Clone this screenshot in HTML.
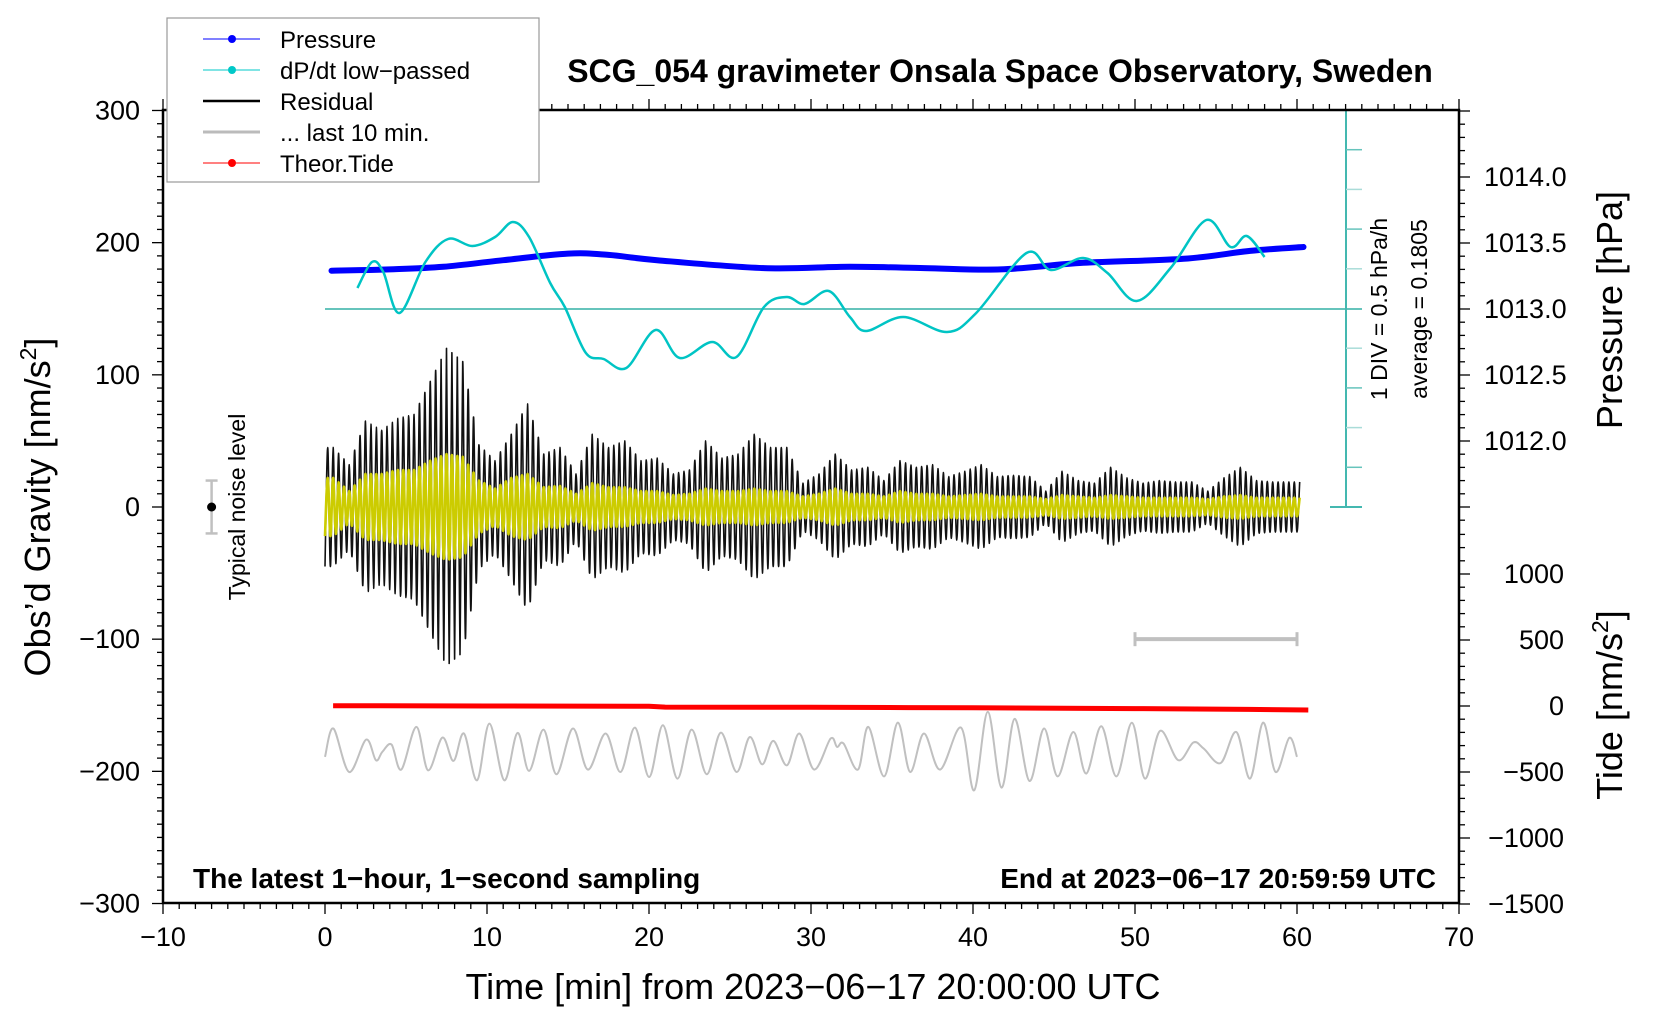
<!DOCTYPE html>
<html><head><meta charset="utf-8"><style>
html,body{margin:0;padding:0;background:#fff;}
svg{display:block;font-family:"Liberation Sans",sans-serif;}
</style></head><body>
<svg id="chart" width="1660" height="1020" viewBox="0 0 1660 1020" xmlns="http://www.w3.org/2000/svg">
<g id="marks"></g>
<g id="axes"></g>
<text x="1000" y="82" text-anchor="middle" font-size="32" font-weight="bold">SCG_054 gravimeter Onsala Space Observatory, Sweden</text>
<text x="193" y="888" font-size="28" font-weight="bold">The latest 1−hour, 1−second sampling</text>
<text x="1436" y="888" text-anchor="end" font-size="28" font-weight="bold">End at 2023−06−17 20:59:59 UTC</text>
<text x="813" y="999" text-anchor="middle" font-size="36">Time [min] from 2023−06−17 20:00:00 UTC</text>
<text transform="translate(50,507) rotate(-90)" text-anchor="middle" font-size="36">Obs’d Gravity [nm/s<tspan font-size="23" dy="-14">2</tspan><tspan dy="14">]</tspan></text>
<text transform="translate(1622,310) rotate(-90)" text-anchor="middle" font-size="36">Pressure [hPa]</text>
<text transform="translate(1622,705) rotate(-90)" text-anchor="middle" font-size="36">Tide [nm/s<tspan font-size="23" dy="-14">2</tspan><tspan dy="14">]</tspan></text>
<text transform="translate(1387,309) rotate(-90)" text-anchor="middle" font-size="23">1 DIV = 0.5 hPa/h</text>
<text transform="translate(1427,309) rotate(-90)" text-anchor="middle" font-size="23">average = 0.1805</text>
<text transform="translate(245,507) rotate(-90)" text-anchor="middle" font-size="23">Typical noise level</text>
<g>
<rect x="167" y="18" width="372" height="164" fill="#fff" stroke="#999" stroke-width="1.2"/>
<line x1="203" y1="39" x2="260" y2="39" stroke="#0000ff" stroke-width="1"/><circle cx="232" cy="39" r="4" fill="#0000ff"/>
<text x="280" y="48" font-size="24">Pressure</text>
<line x1="203" y1="70" x2="260" y2="70" stroke="#00c8c8" stroke-width="1"/><circle cx="232" cy="70" r="4" fill="#00c8c8"/>
<text x="280" y="79" font-size="24">dP/dt low−passed</text>
<line x1="203" y1="101" x2="260" y2="101" stroke="#000" stroke-width="2.5"/>
<text x="280" y="110" font-size="24">Residual</text>
<line x1="203" y1="132" x2="260" y2="132" stroke="#bbb" stroke-width="3"/>
<text x="280" y="141" font-size="24">... last 10 min.</text>
<line x1="203" y1="163" x2="260" y2="163" stroke="#ff0000" stroke-width="1"/><circle cx="232" cy="163" r="4" fill="#ff0000"/>
<text x="280" y="172" font-size="24">Theor.Tide</text>
</g>
</svg>
<script>
// ---------- data ----------
const pressT = [0.4, 4.0, 7.3, 11.0, 15.0, 17.5, 20.5, 27.1, 32.4, 37.0, 41.7, 46.8, 53.0, 57.1, 60.4];
const pressV = [1013.29, 1013.30, 1013.32, 1013.37, 1013.42, 1013.41, 1013.37, 1013.31, 1013.32, 1013.31, 1013.30, 1013.35, 1013.38, 1013.44, 1013.47];
const dpdtT = [2.0,2.9,3.6,4.6,6.2,7.6,9.1,10.5,11.6,12.6,13.9,14.8,16.1,17.2,18.6,20.4,21.9,23.9,25.4,27.1,28.5,29.6,31.1,32.4,33.4,35.7,38.4,40.2,43.3,44.8,46.8,48.3,50.1,52.2,54.4,55.9,56.9,58.0];
const dpdtV = [0.445,0.772,0.646,0.130,0.772,1.062,0.974,1.087,1.276,1.087,0.508,0.206,-0.373,-0.449,-0.562,-0.084,-0.436,-0.235,-0.424,0.206,0.332,0.243,0.407,0.080,-0.096,0.080,-0.109,0.130,0.886,0.672,0.823,0.634,0.281,0.697,1.301,0.961,1.100,0.835];
const dpdtAverage = 0.1805;
const residEnvelope = [45,32,65,58,67,70,95,120,110,47,35,55,78,40,45,25,55,45,50,35,37,25,28,50,37,40,55,45,45,18,25,40,28,30,20,35,30,32,23,27,32,23,24,23,12,27,20,18,30,22,18,20,19,19,12,22,30,20,19,19];
const filtEnvelope = [22,12,25,25,28,28,35,40,38,20,14,22,25,15,16,10,18,15,15,12,12,9,10,14,12,12,14,12,12,8,10,14,10,10,8,12,10,10,8,9,10,8,8,8,6,9,8,7,9,8,7,7,7,7,6,8,9,7,7,7];
const last10S = [0,5.2,14.9,25.4,31.4,35.4,41.1,47.1,56.4,63.6,72.5,79.3,85.8,93.8,101.5,110.7,118.8,126.0,134.9,142.9,153.0,162.3,173.2,182.4,191.3,200.1,208.6,217.5,226.3,235.6,244.4,254.1,262.2,269.8,276.7,285.1,292.8,302.0,312.1,316.1,320.1,329.0,335.4,345.1,353.6,361.2,369.7,379.7,392.6,400.7,409.1,417.6,425.7,434.9,443.8,452.2,461.9,469.9,479.2,488.5,498.1,506.2,515.5,526.7,536.0,542.4,552.9,562.6,571.0,579.1,586.8,595.2,600];
const last10V = [-189.1,-167.6,-200.5,-176.0,-191.6,-185.3,-179.8,-198.7,-166.4,-199.2,-174.5,-192.1,-171.4,-206.8,-163.9,-206.8,-170.9,-199.7,-168.4,-202.2,-167.6,-198.7,-171.4,-200.5,-166.9,-204.3,-165.1,-205.5,-168.4,-202.2,-170.7,-200.5,-174.0,-194.7,-177.0,-195.4,-171.4,-198.7,-175.2,-181.5,-179.0,-198.7,-166.4,-203.8,-163.1,-200.5,-171.4,-198.7,-166.9,-214.4,-155.0,-212.3,-160.3,-207.3,-167.6,-203.8,-170.2,-201.7,-165.9,-203.8,-163.3,-205.5,-169.4,-191.6,-178.2,-182.8,-193.7,-170.2,-205.5,-163.1,-200.5,-174.7,-189.1];
const tideT = [0.5, 10, 20, 21, 30, 36, 40, 47, 50, 57, 60.7];
const tideV = [2, 0, -2, -8, -10, -12, -13, -18, -20, -26, -30];
const xTicks = [-10,0,10,20,30,40,50,60,70];
const yTicks = [-300,-200,-100,0,100,200,300];
const pTicks = [1012.0,1012.5,1013.0,1013.5,1014.0];
const tTicks = [-1500,-1000,-500,0,500,1000];

// ---------- scales ----------
const X0=163, X1=1459, Y0=110, Y1=903;
const xS = t => X0 + (t + 10) * (X1 - X0) / 80;
const yG = g => 507 - g * 1.3217;
const yP = p => 309 - (p - 1013) * 132;
const yT = v => 706 - v * 0.132;
const yD = v => 309 - (v - dpdtAverage) / 0.5 * 39.7;
const NS = 'http://www.w3.org/2000/svg';
const marks = document.getElementById('marks');
const axes = document.getElementById('axes');
function mk(tag, attrs, parent){ const e=document.createElementNS(NS,tag); for(const k in attrs) e.setAttribute(k,attrs[k]); (parent||marks).appendChild(e); return e; }
function smooth(pts){
  if(pts.length<2) return '';
  let d='M'+pts[0][0].toFixed(1)+','+pts[0][1].toFixed(1);
  for(let i=0;i<pts.length-1;i++){
    const p0=pts[Math.max(0,i-1)],p1=pts[i],p2=pts[i+1],p3=pts[Math.min(pts.length-1,i+2)];
    const c1=[p1[0]+(p2[0]-p0[0])/6,p1[1]+(p2[1]-p0[1])/6];
    const c2=[p2[0]-(p3[0]-p1[0])/6,p2[1]-(p3[1]-p1[1])/6];
    d+='C'+c1[0].toFixed(1)+','+c1[1].toFixed(1)+' '+c2[0].toFixed(1)+','+c2[1].toFixed(1)+' '+p2[0].toFixed(1)+','+p2[1].toFixed(1);
  }
  return d;
}
function envAt(env,t){
  const u=Math.min(env.length-1,Math.max(0,t-0.5));
  const i=Math.floor(u), j=Math.min(env.length-1,i+1), f=u-i;
  return env[i]*(1-f)+env[j]*f;
}

let e;
e=mk('line',{x1:xS(0),y1:yD(dpdtAverage),x2:1362,y2:yD(dpdtAverage),stroke:'#66c4bc','stroke-width':2});



const sb=mk('g',{});


mk('line',{x1:1346,y1:110,x2:1346,y2:507,stroke:'#44b8b0','stroke-width':2},sb);
mk('line',{x1:1330,y1:110,x2:1362,y2:110,stroke:'#44b8b0','stroke-width':2},sb);
mk('line',{x1:1330,y1:507,x2:1362,y2:507,stroke:'#44b8b0','stroke-width':2},sb);
for(let k=1;k<10;k++){ if(k===5) continue; const yy=110+k*39.7; mk('line',{x1:1346,y1:yy,x2:1362,y2:yy,stroke:k%2?'#66c4bc':'#aadcd8','stroke-width':1.5},sb); }

const rp=[], fp=[];
for(let k=0;k<=361;k++){ const t=k/6; const s=(k%2?1:-1); rp.push([xS(t), yG(s*envAt(residEnvelope,t))]); fp.push([xS(t), yG(s*envAt(filtEnvelope,t))]); }
e=mk('path',{d:smooth(rp),fill:'none',stroke:'#111','stroke-width':1.6});


e=mk('path',{d:smooth(fp),fill:'none',stroke:'#cccc00','stroke-width':2.6});



e=mk('path',{d:smooth(pressT.map((t,i)=>[xS(t),yP(pressV[i])])),fill:'none',stroke:'#0000ff','stroke-width':6,'stroke-linecap':'round'});



e=mk('path',{d:smooth(dpdtT.map((t,i)=>[xS(t),yD(dpdtV[i])])),fill:'none',stroke:'#00c4c4','stroke-width':2.5});



e=mk('path',{d:'M'+tideT.map((t,i)=>xS(t).toFixed(1)+','+yT(tideV[i]).toFixed(1)).join('L'),fill:'none',stroke:'#ff0000','stroke-width':5});



e=mk('path',{d:smooth(last10S.map((s,i)=>[xS(s/10),yG(last10V[i])])),fill:'none',stroke:'#c0c0c0','stroke-width':2});



const gb=mk('g',{});


mk('line',{x1:xS(50),y1:yG(-100),x2:xS(60),y2:yG(-100),stroke:'#c0c0c0','stroke-width':4},gb);
mk('line',{x1:xS(50),y1:yG(-100)-7,x2:xS(50),y2:yG(-100)+7,stroke:'#c0c0c0','stroke-width':3},gb);
mk('line',{x1:xS(60),y1:yG(-100)-7,x2:xS(60),y2:yG(-100)+7,stroke:'#c0c0c0','stroke-width':3},gb);

const nb=mk('g',{});


mk('line',{x1:xS(-7),y1:yG(20),x2:xS(-7),y2:yG(-20),stroke:'#c0c0c0','stroke-width':2.5},nb);
mk('line',{x1:xS(-7)-6,y1:yG(20),x2:xS(-7)+6,y2:yG(20),stroke:'#c0c0c0','stroke-width':2.5},nb);
mk('line',{x1:xS(-7)-6,y1:yG(-20),x2:xS(-7)+6,y2:yG(-20),stroke:'#c0c0c0','stroke-width':2.5},nb);
mk('circle',{cx:xS(-7),cy:yG(0),r:4.5,fill:'#000'},nb);

// ---------- axes ----------
const fr=mk('path',{d:`M${X0},${Y0}H${X1}V${Y1}H${X0}Z`,fill:'none',stroke:'#000','stroke-width':2.5},axes);


for(let t=-10;t<=70;t++){
  const len = t%10===0?11:6, x=xS(t);
  mk('line',{x1:x,y1:Y1,x2:x,y2:Y1+len,stroke:'#000','stroke-width':1.3},axes);
  mk('line',{x1:x,y1:Y0,x2:x,y2:Y0-len,stroke:'#000','stroke-width':1.3},axes);
}
xTicks.forEach(t=>{ const tx=mk('text',{x:xS(t),y:946,'text-anchor':'middle','font-size':27},axes); tx.textContent=String(t).replace('-','−');
  
   });
for(let g=-300;g<=300;g+=10){ const len=g%100===0?11:6; mk('line',{x1:X0,y1:yG(g),x2:X0-len,y2:yG(g),stroke:'#000','stroke-width':1.3},axes); }
yTicks.forEach(g=>{ const tx=mk('text',{x:140,y:yG(g)+9,'text-anchor':'end','font-size':27},axes); tx.textContent=String(g).replace('-','−');
  
   });
for(let k=0;k<=31;k++){ const p=1011.4+k*0.1; const major=(k%5===1); mk('line',{x1:X1,y1:yP(p),x2:X1+(major?11:6),y2:yP(p),stroke:'#000','stroke-width':1.3},axes); }
pTicks.forEach(p=>{ const tx=mk('text',{x:1484,y:yP(p)+9,'font-size':27},axes); tx.textContent=p.toFixed(1);
  
   });
for(let v=-1500;v<=1300;v+=100){ const major=v%500===0; mk('line',{x1:X1,y1:yT(v),x2:X1+(major?11:6),y2:yT(v),stroke:'#000','stroke-width':1.3},axes); }
tTicks.forEach(v=>{ const tx=mk('text',{x:1564,y:yT(v)+9,'text-anchor':'end','font-size':27},axes); tx.textContent=String(v).replace('-','−');
  
   });
</script>
</body></html>
